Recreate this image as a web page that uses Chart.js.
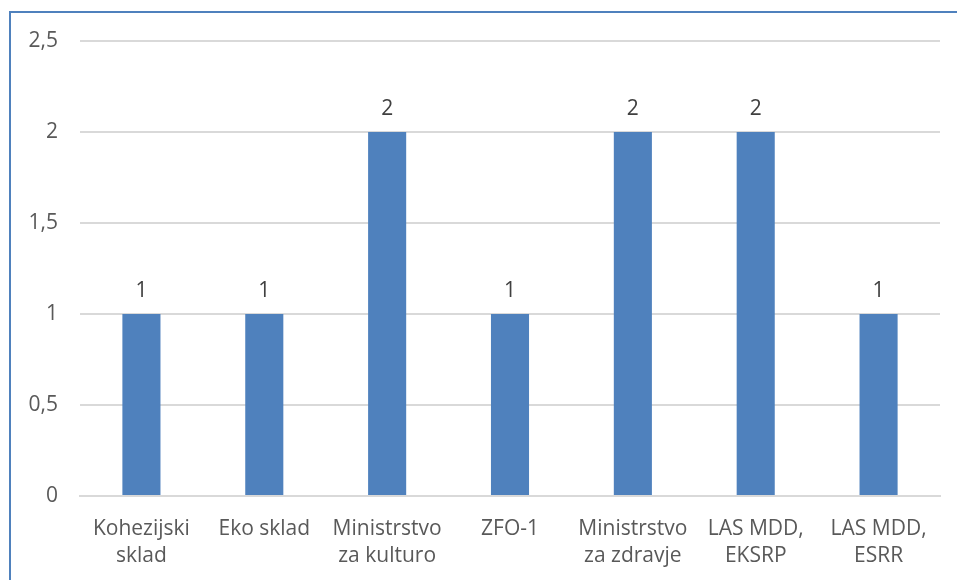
<!DOCTYPE html>
<html>
<head>
<meta charset="utf-8">
<script src="https://cdn.jsdelivr.net/npm/chart.js@4"></script>
<style>
    html, body { margin: 0; padding: 0; background: #fff; overflow: hidden; }
    #wrap { position: relative; width: 957px; height: 580px; }
    #frame { position: absolute; left: 9px; top: 11px; width: 960px; height: 600px; border: 2px solid #4F81BD; box-sizing: border-box; }
    canvas { position: absolute; left: 0; top: 0; }
</style>
</head>
<body>
<div id="wrap">
    <div id="frame"></div>
    <canvas id="chart" width="957" height="580"></canvas>
</div>
<script>
// Chart data
const categories = [
    ['Kohezijski', 'sklad'],
    'Eko sklad',
    ['Ministrstvo', 'za kulturo'],
    'ZFO-1',
    ['Ministrstvo', 'za zdravje'],
    ['LAS MDD,', 'EKSRP'],
    ['LAS MDD,', 'ESRR']
];
const values = [1, 1, 2, 1, 2, 2, 1];
const yTicks = [0, 0.5, 1, 1.5, 2, 2.5];

const FONT = '"Open Sans", sans-serif';

// Value labels above each bar
const valueLabels = {
    id: 'valueLabels',
    afterDatasetsDraw(chart) {
        const ctx = chart.ctx;
        const meta = chart.getDatasetMeta(0);
        ctx.save();
        ctx.font = '21px ' + FONT;
        ctx.fillStyle = '#404040';
        ctx.textAlign = 'center';
        ctx.textBaseline = 'alphabetic';
        meta.data.forEach((bar, i) => {
            ctx.fillText(String(values[i]).replace('.', ','), bar.x, bar.y - 17);
        });
        ctx.restore();
    }
};

new Chart(document.getElementById('chart'), {
    type: 'bar',
    data: {
        labels: categories,
        datasets: [{
            data: values,
            backgroundColor: '#4F81BD',
            borderWidth: 0,
            barPercentage: 0.5,
            categoryPercentage: 0.62
        }]
    },
    options: {
        responsive: false,
        animation: false,
        layout: { padding: { top: 41, right: 17, left: 0, bottom: 0 } },
        plugins: {
            legend: { display: false },
            tooltip: { enabled: false }
        },
        scales: {
            x: {
                grid: { display: false, drawTicks: false },
                border: { display: true, color: '#D9D9D9', width: 2 },
                ticks: {
                    color: '#595959',
                    font: { family: FONT, size: 21, lineHeight: 1.3 },
                    padding: 19,
                    maxRotation: 0,
                    autoSkip: false
                },
                afterFit(axis) { axis.height = 84; }
            },
            y: {
                min: 0,
                max: 2.5,
                afterBuildTicks(axis) { axis.ticks = yTicks.map(v => ({ value: v })); },
                grid: { color: '#D9D9D9', lineWidth: 2, drawTicks: false },
                border: { display: false },
                ticks: {
                    color: '#595959',
                    font: { family: FONT, size: 21 },
                    padding: 22,
                    callback: v => String(v).replace('.', ',')
                },
                afterFit(axis) { axis.width = 80; }
            }
        }
    },
    plugins: [valueLabels]
});
</script>
</body>
</html>
